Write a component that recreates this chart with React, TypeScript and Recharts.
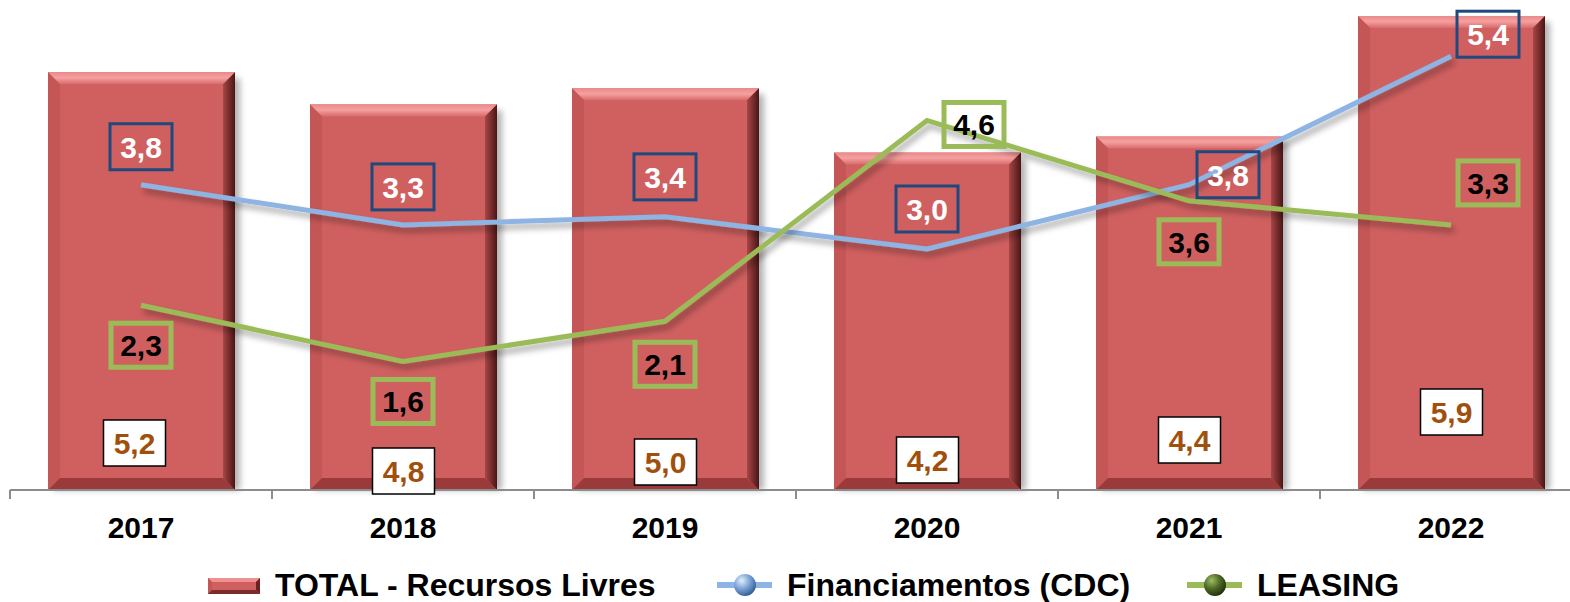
import { ComposedChart, Bar, Line, XAxis, YAxis, LabelList, Legend } from 'recharts'

const years = ['2017', '2018', '2019', '2020', '2021', '2022']
const totalLivres = [5.2, 4.8, 5.0, 4.2, 4.4, 5.9]
const financiamentosCdc = [3.8, 3.3, 3.4, 3.0, 3.8, 5.4]
const leasing = [2.3, 1.6, 2.1, 4.6, 3.6, 3.3]

const data = years.map((year, i) => ({
  year,
  total: totalLivres[i],
  cdc: financiamentosCdc[i],
  leasing: leasing[i],
}))

// label nudges [dx, dy] in px, placed by hand like in the original deck
const totalLabelPos = [[-7, -47], [0, -19], [0, -28], [0, -30], [0, -50], [0, -78]]
const cdcLabelPos = [[0, -38], [0, -38], [0, -40], [0, -40], [39, -10], [37, -22]]
const leasingLabelPos = [[0, 40], [0, 40], [0, 43], [47, 4], [0, 41], [37, -42]]

const W = 1582
const H = 602
const MARGIN = { top: 8, right: 0, left: 10, bottom: 0 }
const PLOT_W = W - MARGIN.left - MARGIN.right
const FONT = "'Liberation Sans', Arial, Helvetica, sans-serif"

const fmt = (v: number) => v.toFixed(1).replace('.', ',')

function bevelParts(x: number, y: number, w: number, h: number, b: number) {
  return {
    top: `${x},${y} ${x + w},${y} ${x + w - b},${y + b} ${x + b},${y + b}`,
    right: `${x + w},${y} ${x + w},${y + h} ${x + w - b},${y + h - b} ${x + w - b},${y + b}`,
    bottom: `${x},${y + h} ${x + w},${y + h} ${x + w - b},${y + h - b} ${x + b},${y + h - b}`,
    left: `${x},${y} ${x + b},${y + b} ${x + b},${y + h - b} ${x},${y + h}`,
  }
}

function BevelBar(props: any) {
  const { x, y, width, height } = props
  if (!height) return null
  const p = bevelParts(x, y, width, height, 12)
  return (
    <g>
      <rect x={x + 5} y={y + 6} width={width} height={height - 6} fill="#000" opacity={0.3} filter="url(#barShadow)" />
      <rect x={x} y={y} width={width} height={height} fill="#D06060" />
      <polygon points={p.top} fill="url(#bevelTop)" />
      <polygon points={p.left} fill="#C45656" />
      <polygon points={p.bottom} fill="#9A3A3A" />
      <polygon points={p.right} fill="url(#bevelRight)" />
    </g>
  )
}

function TotalLabel(props: any) {
  const { x, y, width, height, value, index } = props
  const [dx, dy] = totalLabelPos[index]
  const cx = x + width / 2 + dx
  const cy = y + height + dy
  return (
    <g>
      <rect x={cx - 31} y={cy - 23} width={62} height={46} fill="#fff" stroke="#000" strokeWidth={1.5} />
      <text x={cx} y={cy + 11} textAnchor="middle" fontFamily={FONT} fontWeight="bold" fontSize={30} fill="#A0500C">
        {fmt(value)}
      </text>
    </g>
  )
}

function CdcLabel(props: any) {
  const { x, y, value, index } = props
  const [dx, dy] = cdcLabelPos[index]
  const cx = x + dx
  const cy = y + dy
  return (
    <g>
      <rect x={cx - 31} y={cy - 23} width={62} height={46} fill="none" stroke="#1F497D" strokeWidth={3} />
      <text x={cx} y={cy + 11} textAnchor="middle" fontFamily={FONT} fontWeight="bold" fontSize={30} fill="#fff">
        {fmt(value)}
      </text>
    </g>
  )
}

function LeasingLabel(props: any) {
  const { x, y, value, index } = props
  const [dx, dy] = leasingLabelPos[index]
  const cx = x + dx
  const cy = y + dy
  return (
    <g>
      <rect x={cx - 30} y={cy - 22} width={60} height={44} fill="none" stroke="#9BBB59" strokeWidth={5} />
      <text x={cx} y={cy + 11} textAnchor="middle" fontFamily={FONT} fontWeight="bold" fontSize={30} fill="#000">
        {fmt(value)}
      </text>
    </g>
  )
}

function YearTick(props: any) {
  const { x, y, payload } = props
  const step = PLOT_W / years.length
  return (
    <g>
      <line x1={x - step / 2} x2={x - step / 2} y1={y} y2={y + 9} stroke="#8C8C8C" strokeWidth={2} />
      <text x={x} y={y + 48} textAnchor="middle" fontFamily={FONT} fontWeight="bold" fontSize={30} fill="#000">
        {payload.value}
      </text>
    </g>
  )
}

function LegendContent() {
  const p = bevelParts(208, 578, 52, 16, 4)
  const txt = { fontFamily: FONT, fontWeight: 'bold' as const, fontSize: 32, fill: '#000' }
  return (
    <svg width={1570} height={52} viewBox="0 550 1570 52" style={{ display: 'block' }}>
      <defs>
        <radialGradient id="sphereBlue" cx="35%" cy="30%" r="75%">
          <stop offset="0%" stopColor="#E3EEF9" />
          <stop offset="50%" stopColor="#7BA3D6" />
          <stop offset="100%" stopColor="#2F5A8F" />
        </radialGradient>
        <radialGradient id="sphereGreen" cx="35%" cy="30%" r="75%">
          <stop offset="0%" stopColor="#9DBD62" />
          <stop offset="50%" stopColor="#4F6A25" />
          <stop offset="100%" stopColor="#1F2D0C" />
        </radialGradient>
      </defs>
      <rect x={208} y={578} width={52} height={16} fill="#D06060" />
      <polygon points={p.top} fill="#F09090" />
      <polygon points={p.left} fill="#C45656" />
      <polygon points={p.bottom} fill="#7A2C2C" />
      <polygon points={p.right} fill="#6A2222" />
      <text x={275} y={596} {...txt}>TOTAL - Recursos Livres</text>

      <line x1={717} x2={772} y1={585} y2={585} stroke="#8DB4E2" strokeWidth={6} />
      <circle cx={745} cy={585} r={11} fill="url(#sphereBlue)" />
      <text x={787} y={596} {...txt}>Financiamentos (CDC)</text>

      <line x1={1187} x2={1242} y1={585} y2={585} stroke="#9BBB59" strokeWidth={6} />
      <circle cx={1215} cy={585} r={11} fill="url(#sphereGreen)" />
      <text x={1257} y={596} {...txt}>LEASING</text>
    </svg>
  )
}

export default function App() {
  return (
    <div style={{ position: 'absolute', left: 0, top: 0, width: 1570, height: 602, overflow: 'hidden', background: '#fff' }}>
      <ComposedChart width={W} height={H} data={data} margin={MARGIN}>
        <defs>
          <linearGradient id="bevelTop" x1="0" y1="0" x2="0" y2="1">
            <stop offset="0%" stopColor="#E88A8A" />
            <stop offset="45%" stopColor="#F6A0A0" />
            <stop offset="100%" stopColor="#D86A6A" />
          </linearGradient>
          <linearGradient id="bevelRight" x1="0" y1="0" x2="1" y2="0">
            <stop offset="0%" stopColor="#A84646" />
            <stop offset="100%" stopColor="#4A1515" />
          </linearGradient>
          <filter id="barShadow" x="-20%" y="-20%" width="140%" height="140%">
            <feGaussianBlur stdDeviation="3" />
          </filter>
          <filter id="lineShadow" x="-10%" y="-30%" width="120%" height="160%">
            <feDropShadow dx="3" dy="5" stdDeviation="3" floodColor="#000" floodOpacity="0.35" />
          </filter>
        </defs>
        <XAxis
          dataKey="year"
          height={60}
          tickLine={false}
          tickSize={0}
          tickMargin={0}
          axisLine={{ stroke: '#8C8C8C', strokeWidth: 2 }}
          tick={<YearTick />}
          interval={0}
        />
        <YAxis hide domain={[0, 6]} />
        <Bar dataKey="total" barSize={187} shape={<BevelBar />} isAnimationActive={false}>
          <LabelList dataKey="total" content={<TotalLabel />} />
        </Bar>
        <Line
          type="linear"
          dataKey="cdc"
          stroke="#8DB4E2"
          strokeWidth={5}
          dot={false}
          activeDot={false}
          filter="url(#lineShadow)"
          isAnimationActive={false}
        >
          <LabelList dataKey="cdc" content={<CdcLabel />} />
        </Line>
        <Line
          type="linear"
          dataKey="leasing"
          stroke="#9BBB59"
          strokeWidth={5}
          dot={false}
          activeDot={false}
          filter="url(#lineShadow)"
          isAnimationActive={false}
        >
          <LabelList dataKey="leasing" content={<LeasingLabel />} />
        </Line>
        <Legend
          verticalAlign="bottom"
          content={<LegendContent />}
          wrapperStyle={{ left: 0, width: 1570, height: 52 }}
        />
      </ComposedChart>
    </div>
  )
}
